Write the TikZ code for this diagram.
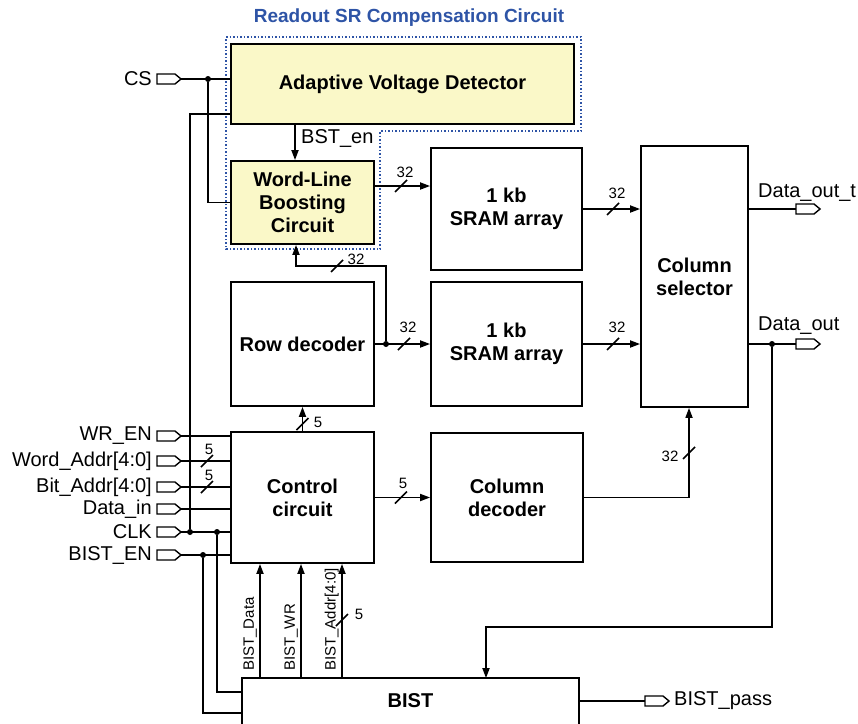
\documentclass[tikz,border=0pt]{standalone}
\usepackage{fontspec}
\setmainfont{Liberation Sans}
\usetikzlibrary{arrows.meta,positioning}

\definecolor{detyellow}{RGB}{250,248,200}
\definecolor{compblue}{RGB}{46,84,166}

\tikzset{
  blk/.style={draw, line width=1.8pt, inner sep=0pt, align=center,
    font=\fontsize{20}{23}\selectfont\bfseries},
  wire/.style={line width=1.7pt},
  arr/.style={wire, -{Triangle[length=10pt,width=7pt]}},
  dot/.style={circle, fill, inner sep=0pt, minimum size=6pt},
  sig/.style={font=\fontsize{20}{23}\selectfont, inner sep=1pt},
  busw/.style={font=\fontsize{15}{17}\selectfont, inner sep=0pt},
  rotsig/.style={font=\fontsize{15}{17}\selectfont, inner sep=1pt, rotate=90, anchor=south west},
  inport/.pic={
    \draw[line width=1.4pt, fill=white] (0,-5) -- (18,-5) -- (24,0) -- (18,5) -- (0,5) -- cycle;
    \coordinate (-w) at (0,0);
    \coordinate (-e) at (24,0);
  },
  busmark/.pic={\draw[wire] (-6,6) -- (6,-6);}
}

\begin{document}
\begin{tikzpicture}[x=1pt, y=-1pt]
\useasboundingbox (0,0) rectangle (858,723);

% readout SR compensation circuit
\node[font=\fontsize{19}{22}\selectfont\bfseries, text=compblue] (title) at (409,18) {Readout SR Compensation Circuit};
\draw[compblue, line width=1.4pt, dash pattern=on 1.5pt off 2pt]
  (226,37) -- (581,37) -- (581,131) -- (380,131) -- (380,249) -- (226,249) -- cycle;
\node[blk, fill=detyellow, minimum width=343, minimum height=80] (avd) at (402.5,84) {Adaptive Voltage Detector};
\node[blk, fill=detyellow, minimum width=143, minimum height=83] (wlb) at (302.5,202.5) {Word-Line\\Boosting\\Circuit};

% memory blocks
\node[blk, minimum width=151, minimum height=122] (sram1) at (506.5,209) {1 kb\\SRAM array};
\node[blk, minimum width=151, minimum height=124] (sram2) at (506.5,344) {1 kb\\SRAM array};
\node[blk, minimum width=143, minimum height=124] (row) at (302.5,344) {Row decoder};
\node[blk, minimum width=143, minimum height=131] (ctrl) at (302.5,497.5) {Control\\circuit};
\node[blk, minimum width=152, minimum height=129] (coldec) at (507,497.5) {Column\\decoder};
\node[blk, minimum width=107, minimum height=261] (colsel) at (694.5,276.5) {Column\\selector};
\node[blk, draw=none, minimum width=335, minimum height=44] (bist) at (410.5,701) {BIST};
\draw[line width=1.8pt] (bist.south west) |- (bist.north east) -- (bist.south east);

% pins
\pic (pcs) at (157,79) {inport};
\pic (pwr) at (157,436) {inport};
\pic (pword) at (157,461) {inport};
\pic (pbit) at (157,487) {inport};
\pic (pdin) at (157,509) {inport};
\pic (pclk) at (157,532) {inport};
\pic (pben) at (157,555) {inport};
\pic (pdot) at (796,209) {inport};
\pic (pdo) at (796,344) {inport};
\pic (ppass) at (645,701) {inport};

\node[sig, anchor=east] (lcs) at ([xshift=-4]pcs-w) {CS};
\node[sig, anchor=east] (lwr) at ([xshift=-4]pwr-w) {WR\_EN};
\node[sig, anchor=east] (lword) at ([xshift=-4]pword-w) {Word\_Addr[4:0]};
\node[sig, anchor=east] (lbit) at ([xshift=-4]pbit-w) {Bit\_Addr[4:0]};
\node[sig, anchor=east] (ldin) at ([xshift=-4]pdin-w) {Data\_in};
\node[sig, anchor=east] (lclk) at ([xshift=-4]pclk-w) {CLK};
\node[sig, anchor=east] (lben) at ([xshift=-4]pben-w) {BIST\_EN};
\node[sig, anchor=west] (ldot) at (757,193) {Data\_out\_t};
\node[sig, anchor=west] (ldo) at (757,326) {Data\_out};
\node[sig, anchor=west] (lpass) at ([xshift=4]ppass-e) {BIST\_pass};

% CS, BST_en
\node[dot] (jcs) at (208,79) {};
\draw[wire] (pcs-e) -- (pcs-e -| avd.west);
\draw[wire] (jcs) |- (wlb.west);
\coordinate (bsten) at (295,124);
\draw[arr] (bsten) -- (bsten |- wlb.north);
\node[sig, anchor=west] (lbst) at (300,139) {BST\_en};

% inputs of the control circuit
\node[dot] (jclka) at (190,532) {};
\node[dot] (jclkb) at (217,532) {};
\node[dot] (jben) at (203,555) {};
\draw[wire] ([yshift=11]avd.south west) -| (jclka);
\draw[wire] (pwr-e) -- (pwr-e -| ctrl.west);
\draw[wire] (pword-e) -- (pword-e -| ctrl.west);
\draw[wire] (pbit-e) -- (pbit-e -| ctrl.west);
\draw[wire] (pdin-e) -- (pdin-e -| ctrl.west);
\draw[wire] (pclk-e) -- (pclk-e -| ctrl.west);
\draw[wire] (pben-e) -- (pben-e -| ctrl.west);
\draw[wire] (jclkb) |- ([yshift=9]bist.west);
\draw[wire] (jben) |- ([yshift=-12]bist.west);
\pic at (207,461) {busmark};
\node[busw] (nword) at (209,449) {5};
\pic at (207,487) {busmark};
\node[busw] (nbit) at (209,475) {5};

% row decoder and arrays
\draw[arr] (ctrl.north) -- (row.south);
\pic at (302.5,424) {busmark};
\node[busw] (nrow) at (318,422) {5};
\draw[arr] (row.east) -- (sram2.west);
\node[dot] (jrow) at (386,344) {};
\pic at (404,344) {busmark};
\node[busw] (nsram2) at (408,327) {32};
\coordinate (wlbturn) at (296,266);
\draw[arr] (jrow) |- (wlbturn) -- (wlbturn |- wlb.south);
\pic at (337,266) {busmark};
\node[busw] (nwlb) at (356,259) {32};
\coordinate (wlbout) at ([yshift=16.5]wlb.east);
\draw[arr] (wlbout) -- (wlbout -| sram1.west);
\pic at (401,186) {busmark};
\node[busw] (nsram1) at (405,172) {32};

% column path
\draw[arr] (sram1.east) -- (sram1.east -| colsel.west);
\pic at (613,209) {busmark};
\node[busw] (ncs1) at (617,193) {32};
\draw[arr] (sram2.east) -- (sram2.east -| colsel.west);
\pic at (613,344) {busmark};
\node[busw] (ncs2) at (617,327) {32};
\draw[arr] (ctrl.east) -- (coldec.west);
\pic at (401,497.5) {busmark};
\node[busw] (ncol) at (403,483) {5};
\coordinate (csturn) at (689,497.5);
\draw[arr] (coldec.east) -- (csturn) -- (csturn |- colsel.south);
\pic at (689,453) {busmark};
\node[busw] (nsel) at (670,456) {32};

% outputs
\draw[wire] (colsel.east |- pdot-w) -- (pdot-w);
\draw[wire] (colsel.east |- pdo-w) -- (pdo-w);
\node[dot] (jout) at (772,344) {};
\coordinate (bistturn) at (486,627);
\draw[arr] (jout) |- (bistturn) -- (bistturn |- bist.north);
\draw[wire] (bist.east) -- (ppass-w);

% BIST to control circuit
\coordinate (bdata) at (260,679);
\coordinate (bwr) at (301,679);
\coordinate (baddr) at (342,679);
\draw[arr] (bdata) -- (bdata |- ctrl.south);
\draw[arr] (bwr) -- (bwr |- ctrl.south);
\draw[arr] (baddr) -- (baddr |- ctrl.south);
\node[rotsig] (lbdata) at (258,672) {BIST\_Data};
\node[rotsig] (lbwr) at (299,672) {BIST\_WR};
\node[rotsig] (lbaddr) at (340,672) {BIST\_Addr[4:0]};
\pic at (342,620) {busmark};
\node[busw] (nbaddr) at (359,614) {5};
\end{tikzpicture}
\end{document}
